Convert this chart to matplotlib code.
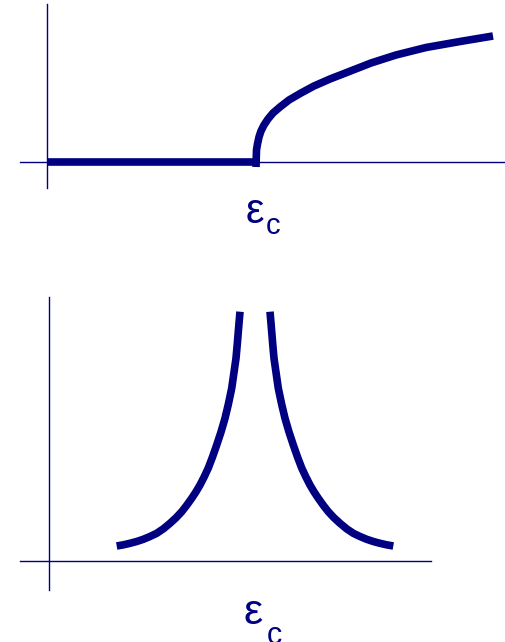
import numpy as np
import matplotlib
matplotlib.use("Agg")
import matplotlib.pyplot as plt

# Top panel: order parameter, zero below eps_c and rising above it
# (offsets from eps_c, arbitrary units)
top_eps_c = 2.093
rise_dx = [0.0, 0.005, 0.015, 0.03, 0.05, 0.08, 0.12, 0.17, 0.24, 0.33, 0.45, 0.58,
           0.74, 0.92, 1.15, 1.40, 1.70, 2.04, 2.37]
rise_h = [-0.05, 0.12, 0.18, 0.25, 0.31, 0.37, 0.43, 0.49, 0.55, 0.62, 0.69, 0.76,
          0.83, 0.90, 0.99, 1.07, 1.145, 1.205, 1.26]

# Bottom panel: quantity diverging on both sides of eps_c (symmetric branches)
bot_eps_c = 2.06
div_d = [1.383, 1.315, 1.25, 1.183, 1.117, 1.05, 0.983, 0.915, 0.85, 0.79, 0.733,
         0.683, 0.633, 0.59, 0.55, 0.508, 0.467, 0.425, 0.383, 0.34, 0.30, 0.266,
         0.233, 0.211, 0.19, 0.178, 0.167, 0.158, 0.15]
div_h = [0.150, 0.162, 0.177, 0.195, 0.217, 0.245, 0.277, 0.323, 0.377, 0.432,
         0.493, 0.557, 0.627, 0.692, 0.76, 0.842, 0.93, 1.04, 1.16, 1.29, 1.427,
         1.57, 1.727, 1.88, 2.027, 2.16, 2.293, 2.40, 2.493]

navy = "#000080"
W, H = 506, 642
LW = 5.5

fig = plt.figure(figsize=(W / 100, H / 100), dpi=100)


def panel(top_px, bot_px, x0_px, y0_px):
    # axes covering a band of the figure, 1 data unit = 100 px
    ax = fig.add_axes([0, 1 - bot_px / H, 1, (bot_px - top_px) / H])
    ax.set_xlim(-x0_px / 100, (W - x0_px) / 100)
    ax.set_ylim(-(bot_px - y0_px) / 100, (y0_px - top_px) / 100)
    for s in ["top", "right"]:
        ax.spines[s].set_visible(False)
    for s in ["left", "bottom"]:
        ax.spines[s].set_position(("data", 0))
        ax.spines[s].set_color(navy)
        ax.spines[s].set_linewidth(1.0)
    ax.set_xticks([])
    ax.set_yticks([])
    ax.patch.set_alpha(0)
    return ax


def eps_label(ax, x, y, size, sub_dx, sub_dy, sub_size):
    ax.text(x, y, "ε", fontsize=size, color=navy, family="Liberation Sans",
            ha="center", va="center")
    ax.text(x + sub_dx, y + sub_dy, "c", fontsize=sub_size, color=navy,
            family="Liberation Sans", ha="center", va="center")


# top
ax1 = panel(0, 250, 46.7, 162)
ax1.spines["left"].set_bounds(-0.26, 1.58)
ax1.spines["bottom"].set_bounds(-0.27, 4.6)
ax1.plot([0, top_eps_c], [0, 0], color=navy, lw=LW, solid_capstyle="butt")
ax1.plot(top_eps_c + np.array(rise_dx), rise_h, color=navy, lw=LW,
         solid_capstyle="butt", solid_joinstyle="round")
eps_label(ax1, 2.08, -0.505, 30, 0.18, -0.135, 21)

# bottom
ax2 = panel(280, 642, 49, 561)
ax2.spines["left"].set_bounds(-0.29, 2.64)
ax2.spines["bottom"].set_bounds(-0.29, 3.82)
d = np.array(div_d)
ax2.plot(bot_eps_c - d, div_h, color=navy, lw=LW, solid_capstyle="butt",
         solid_joinstyle="round")
ax2.plot(bot_eps_c + d, div_h, color=navy, lw=LW, solid_capstyle="butt",
         solid_joinstyle="round")
eps_label(ax2, 2.04, -0.52, 31, 0.21, -0.23, 22)

fig.savefig("out.png", dpi=100)
